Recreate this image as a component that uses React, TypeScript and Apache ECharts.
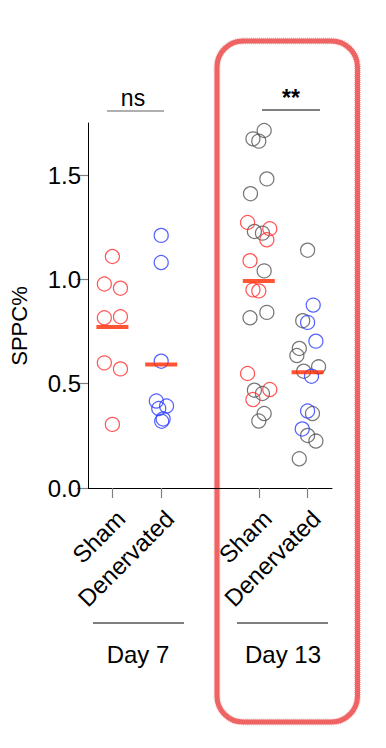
import React, { useEffect, useRef } from "react";
import * as echarts from "echarts";

// ---- data ----
const categories = ["Sham", "Denervated", "", "Sham", "Denervated"];
const groupCenters = [1, 2, 4, 5]; // positions of Sham D7, Den D7, Sham D13, Den D13
const yTicks = [0, 0.5, 1.0, 1.5];

const sham7Values = [1.11, 0.978, 0.958, 0.816, 0.821, 0.6, 0.571, 0.305];
const sham7Jitter = [0, -0.165, 0.165, -0.165, 0.165, -0.165, 0.165, 0];

const den7Values = [1.211, 1.081, 0.608, 0.417, 0.393, 0.381, 0.331, 0.32];
const den7Jitter = [0, 0, 0, -0.1, 0.11, -0.05, 0.04, 0.01];

const sham13GreyValues = [1.714, 1.674, 1.663, 1.482, 1.411, 1.23, 1.222, 1.041, 0.842, 0.816, 0.469, 0.453, 0.357, 0.321];
const sham13GreyJitter = [0.11, -0.12, 0, 0.165, -0.17, -0.09, 0.075, 0.11, 0.165, -0.18, -0.09, 0.075, 0.11, 0];
const sham13RedValues = [1.273, 1.243, 1.19, 1.09, 0.95, 0.945, 0.549, 0.472, 0.424];
const sham13RedJitter = [-0.23, 0.225, 0.165, -0.18, -0.12, 0, -0.23, 0.225, -0.12];

const den13GreyValues = [1.14, 0.802, 0.669, 0.635, 0.581, 0.56, 0.357, 0.252, 0.225, 0.14];
const den13GreyJitter = [0, -0.1, -0.17, -0.22, 0.225, -0.08, 0.1, 0, 0.17, -0.17];
const den13BlueValues = [0.877, 0.794, 0.704, 0.536, 0.369, 0.283];
const den13BlueJitter = [0.115, 0, 0.17, 0.08, 0, -0.11];

const groupMeans = [0.772, 0.592, 0.993, 0.555];

const dayLabels = ["Day 7", "Day 13"];
const significance = ["ns", "**"];

const RED = "#ff2d2d";
const BLUE = "#2a3cff";
const GREY = "#555555";
const FONT = "'Liberation Sans', Arial, Helvetica, sans-serif";

function pts(center: number, values: number[], jitter: number[]) {
  return values.map((v, i) => [center + jitter[i], v]);
}

function circleSeries(name: string, data: number[][], color: string, z: number) {
  return {
    name,
    type: "scatter",
    xAxisIndex: 1,
    yAxisIndex: 0,
    symbol: "circle",
    symbolSize: 14,
    z,
    itemStyle: { color: "rgba(0,0,0,0)", borderColor: color, borderWidth: 1.25 },
    data,
  };
}

export default function App() {
  const ref = useRef<HTMLDivElement>(null);
  useEffect(() => {
    if (!ref.current) return;
    const chart = echarts.init(ref.current, null, { renderer: "svg" });
    const option: any = {
      animation: false,
      backgroundColor: "#ffffff",
      textStyle: { fontFamily: FONT },
      grid: { left: 88, right: 54, top: 123, bottom: 260, containLabel: false },
      xAxis: [
        {
          type: "category",
          data: categories,
          boundaryGap: true,
          axisLine: { show: true, lineStyle: { color: "#000", width: 1 } },
          axisTick: {
            show: true,
            alignWithLabel: true,
            length: 10,
            interval: (_i: number, v: string) => v !== "",
            lineStyle: { color: "#808080", width: 1.2 },
          },
          axisLabel: {
            interval: 0,
            rotate: 45,
            margin: 18,
            fontSize: 24,
            color: "#000",
            verticalAlign: "top",
            fontFamily: FONT,
          },
          splitLine: { show: false },
        },
        {
          type: "value",
          min: 0.5,
          max: 5.5,
          show: false,
          splitLine: { show: false },
        },
      ],
      yAxis: [
        {
          type: "value",
          min: 0,
          max: 1.75,
          interval: 0.5,
          axisLine: { show: true, lineStyle: { color: "#000", width: 1 } },
          axisTick: {
            show: true,
            length: 11,
            customValues: yTicks,
            lineStyle: { color: "#808080", width: 1.2 },
          },
          axisLabel: {
            customValues: yTicks,
            formatter: (v: number) => v.toFixed(1),
            fontSize: 24,
            color: "#000",
            margin: 7,
            fontFamily: FONT,
          },
          splitLine: { show: false },
        },
      ],
      series: [
        circleSeries("Sham D7", pts(groupCenters[0], sham7Values, sham7Jitter), RED, 3),
        circleSeries("Denervated D7", pts(groupCenters[1], den7Values, den7Jitter), BLUE, 3),
        circleSeries("Sham D13 (grey)", pts(groupCenters[2], sham13GreyValues, sham13GreyJitter), GREY, 2),
        circleSeries("Sham D13 (red)", pts(groupCenters[2], sham13RedValues, sham13RedJitter), RED, 3),
        circleSeries("Denervated D13 (grey)", pts(groupCenters[3], den13GreyValues, den13GreyJitter), GREY, 2),
        circleSeries("Denervated D13 (blue)", pts(groupCenters[3], den13BlueValues, den13BlueJitter), BLUE, 3),
        {
          name: "Mean",
          type: "scatter",
          xAxisIndex: 1,
          yAxisIndex: 0,
          symbol: "rect",
          symbolSize: [32, 4],
          z: 4,
          itemStyle: { color: "#ff2a00" },
          data: groupMeans.map((m, i) => [groupCenters[i], m]),
        },
      ],
      graphic: [
        {
          type: "text",
          x: 19,
          y: 326,
          rotation: Math.PI / 2,
          style: {
            text: "SPPC%",
            font: `22px ${FONT}`,
            fill: "#000",
            align: "center",
            verticalAlign: "middle",
          },
        },
        {
          type: "text",
          x: 133,
          y: 98,
          style: { text: significance[0], font: `23px ${FONT}`, fill: "#000", align: "center", verticalAlign: "middle" },
        },
        {
          type: "line",
          shape: { x1: 107, y1: 111, x2: 164, y2: 111 },
          style: { stroke: "#606060", lineWidth: 1.2 },
        },
        {
          type: "text",
          x: 291,
          y: 98,
          style: { text: significance[1], font: `bold 23px ${FONT}`, fill: "#000", align: "center", verticalAlign: "middle" },
        },
        {
          type: "line",
          shape: { x1: 262, y1: 110, x2: 320, y2: 110 },
          style: { stroke: "#000", lineWidth: 1.2 },
        },
        {
          type: "line",
          shape: { x1: 93, y1: 623, x2: 184, y2: 623 },
          style: { stroke: "#000", lineWidth: 1.2 },
        },
        {
          type: "line",
          shape: { x1: 237, y1: 623, x2: 328, y2: 623 },
          style: { stroke: "#000", lineWidth: 1.2 },
        },
        {
          type: "text",
          x: 138,
          y: 654,
          style: { text: dayLabels[0], font: `24px ${FONT}`, fill: "#000", align: "center", verticalAlign: "middle" },
        },
        {
          type: "text",
          x: 283,
          y: 654,
          style: { text: dayLabels[1], font: `24px ${FONT}`, fill: "#000", align: "center", verticalAlign: "middle" },
        },
        {
          type: "rect",
          shape: { x: 217, y: 41, width: 140.5, height: 681, r: 26 },
          style: { fill: "none", stroke: "rgba(236,80,80,0.9)", lineWidth: 5 },
        },
        {
          type: "rect",
          shape: { x: 217, y: 41, width: 140.5, height: 681, r: 26 },
          style: { fill: "none", stroke: "rgba(240,110,110,0.45)", lineWidth: 7, lineDash: [1, 1] },
        },
      ],
    };
    chart.setOption(option);
    return () => chart.dispose();
  }, []);
  return (
    <div
      ref={ref}
      style={{ position: "fixed", left: 0, top: 0, width: 386, height: 748, background: "#fff" }}
    />
  );
}
